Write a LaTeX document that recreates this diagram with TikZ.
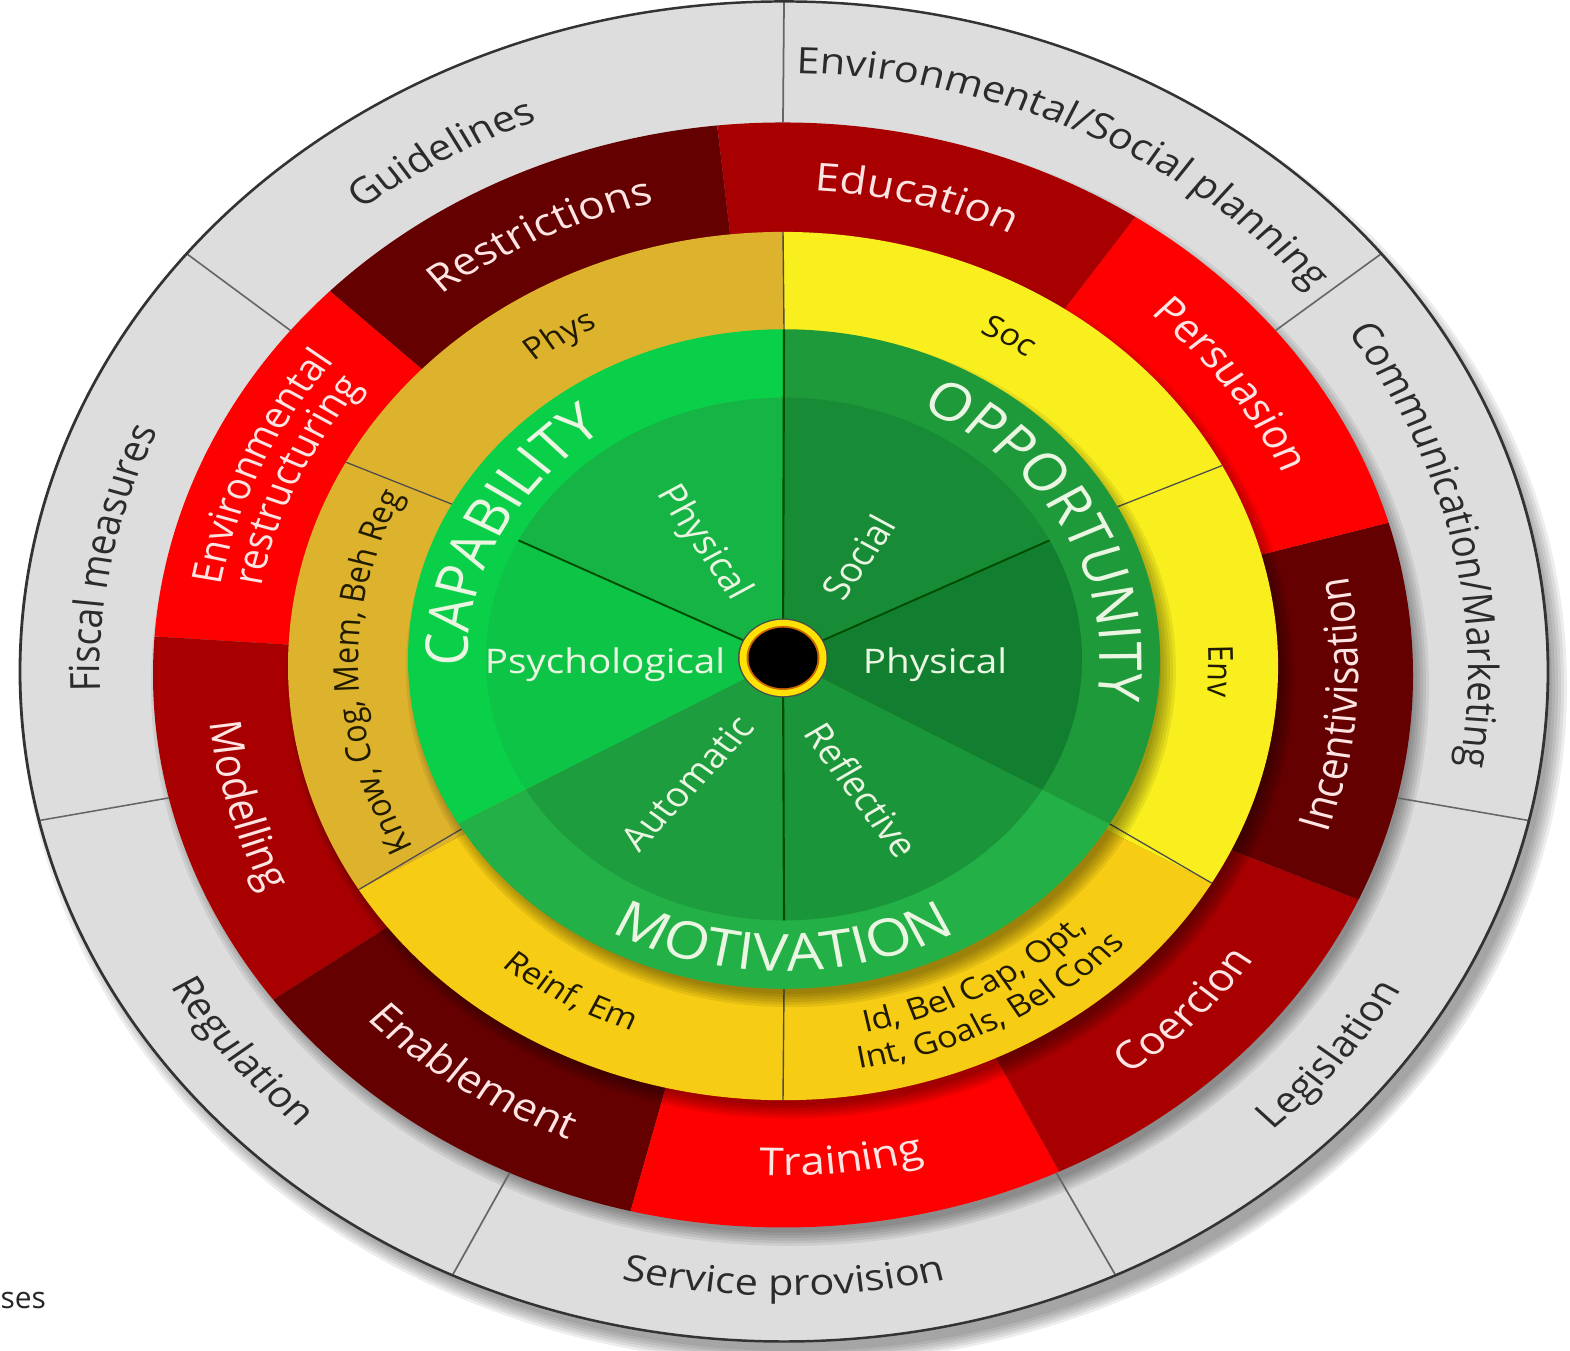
\documentclass[tikz,border=0pt]{standalone}
\usepackage{fontspec}
\setmainfont{Open Sans}
\usepackage{tikz}
\usetikzlibrary{decorations.text}

\definecolor{polgrey}{HTML}{DDDDDD}
\definecolor{poltext}{HTML}{2B2B2B}
\definecolor{fundark}{HTML}{640000}
\definecolor{funmid}{HTML}{A80000}
\definecolor{funbright}{HTML}{FF0000}
\definecolor{funtext}{HTML}{FFE4E4}
\definecolor{tdfgold}{HTML}{DDB22C}
\definecolor{tdfamber}{HTML}{F6CC14}
\definecolor{tdflemon}{HTML}{F9EF1E}
\definecolor{tdftext}{HTML}{1F1A00}
\definecolor{capband}{HTML}{0ACF48}
\definecolor{capphyfill}{HTML}{16B444}
\definecolor{cappsyfill}{HTML}{0DC447}
\definecolor{oppband}{HTML}{1E9A3A}
\definecolor{oppsocfill}{HTML}{178B35}
\definecolor{oppphyfill}{HTML}{127E2F}
\definecolor{motband}{HTML}{23B046}
\definecolor{motautfill}{HTML}{1D9D3D}
\definecolor{motreffill}{HTML}{1A9539}
\definecolor{comtext}{HTML}{EAF6E2}

\newcommand{\polfont}{\fontsize{11.8}{14}\selectfont}
\newcommand{\funfont}{\fontsize{12.5}{15}\selectfont}
\newcommand{\envfont}{\fontsize{11.8}{14}\selectfont}
\newcommand{\tdffont}{\fontsize{9.8}{12}\selectfont}
\newcommand{\comfont}{\fontsize{16.8}{20}\selectfont}

% sector of a ring: centre, from, to, radius, colour
\newcommand{\ringsector}[5]{%
  \fill[#5] (#1) -- ([shift={(#2:#4)}]#1) arc[start angle=#2, end angle=#3, radius=#4] -- cycle;}
% text along an arc: centre, from, to, radius, colour, text
\newcommand{\ringlabel}[6]{%
  \path[decorate, decoration={text along path, text align=center,
      text color=#5, text={#6}}]
    ([shift={(#2:#4)}]#1) arc[start angle=#2, end angle=#3, radius=#4];}
% soft shadow below a ring: centre, radius, x shift, y shift
\newcommand{\ringshadow}[4]{%
  \foreach \s in {0,...,5}{
    \pgfmathsetmacro\rr{#2-0.06+0.03*\s}
    \fill[black, opacity=0.07] ([shift={(#3,#4)}]#1) circle[radius=\rr];
  }}

\tikzset{
  polline/.style={draw=black!60, line width=0.5pt},
  polrim/.style={draw=black!80, line width=0.8pt},
  tdfline/.style={draw=black!70, line width=0.4pt},
  comline/.style={draw=black!70!green, line width=0.6pt}
}

\begin{document}
\begin{tikzpicture}
\useasboundingbox (0,0) rectangle (15.7,13.5);

% the wheel is drawn round and squashed to the ellipse of the picture
\begin{scope}[transform canvas={yscale=0.877}]
\coordinate (pol) at (7.84,7.737);
\coordinate (poltxt) at (7.84,7.719);
\coordinate (fun) at (7.83,7.697);
\coordinate (funtxt) at (7.825,7.748);
\coordinate (tdf) at (7.83,7.799);
\coordinate (tdftxt) at (7.835,7.836);
\coordinate (com) at (7.84,7.879);
\coordinate (hub) at (7.83,7.891);

% policy categories
\ringshadow{pol}{7.64}{0.10}{-0.17}
\fill[polgrey] (pol) circle[radius=7.64];

% intervention functions
\ringshadow{fun}{6.30}{0.07}{-0.12}
\foreach \a/\c in {96/fundark,136/funbright,176/funmid,216/fundark,256/funbright,
                   296/funmid,336/fundark,376/funbright,416/funmid}{
  \pgfmathsetmacro\b{\a+40}
  \ringsector{fun}{\a}{\b}{6.30}{\c}
}
\foreach \k in {0,...,6}{
  \pgfmathsetmacro\a{90-360/7*\k}
  \draw[polline] ([shift={(\a:6.30)}]fun) -- ([shift={(\a:7.64)}]pol);
}
\draw[polrim] (pol) circle[radius=7.64];

% TDF domains
\ringshadow{tdf}{4.95}{0.07}{-0.12}
\ringsector{tdf}{90}{211}{4.95}{tdfgold}
\ringsector{tdf}{211}{330}{4.95}{tdfamber}
\ringsector{tdf}{-30}{90}{4.95}{tdflemon}
\foreach \a in {27.5,90,152,211,270,330}
  \draw[tdfline] ([shift={(\a:3.76)}]com) -- ([shift={(\a:4.95)}]tdf);

% COM-B
\ringshadow{com}{3.76}{0.07}{-0.12}
\ringsector{com}{90}{210}{3.76}{capband}
\ringsector{com}{210}{330}{3.76}{motband}
\ringsector{com}{-30}{90}{3.76}{oppband}
\ringsector{com}{90}{153}{2.98}{capphyfill}
\ringsector{com}{153}{210}{2.98}{cappsyfill}
\ringsector{com}{210}{270}{2.98}{motautfill}
\ringsector{com}{270}{330}{2.98}{motreffill}
\ringsector{com}{-30}{27}{2.98}{oppphyfill}
\ringsector{com}{27}{90}{2.98}{oppsocfill}
\draw[comline] (hub) -- ([shift={(90:3.76)}]com);
\foreach \a in {27,153,270}
  \draw[comline] (hub) -- ([shift={(\a:2.98)}]com);

% hub
\fill[black!70] (hub) circle[radius=0.45];
\fill[yellow!85!orange] (hub) circle[radius=0.435];
\fill[orange!80!black] (hub) circle[radius=0.365];
\fill[black] (hub) circle[radius=0.345];

% labels, policy ring
\ringlabel{poltxt}{160}{80}{6.76}{poltext}{|\polfont|Guidelines}
\ringlabel{poltxt}{104.29}{24.29}{6.84}{poltext}{|\polfont|Environmental/Social planning}
\ringlabel{poltxt}{52.86}{-27.14}{6.84}{poltext}{|\polfont|Communication/Marketing}
\ringlabel{poltxt}{209}{129}{6.84}{poltext}{|\polfont|Fiscal measures}
\ringlabel{poltxt}{178.57}{258.57}{7.10}{poltext}{|\polfont|Regulation}
\ringlabel{poltxt}{230}{310}{7.10}{poltext}{|\polfont|Service provision}
\ringlabel{poltxt}{281.43}{361.43}{7.15}{poltext}{|\polfont|Legislation}

% labels, intervention ring
\ringlabel{funtxt}{156}{76}{5.48}{funtext}{|\funfont|Restrictions}
\ringlabel{funtxt}{116}{36}{5.48}{funtext}{|\funfont|Education}
\ringlabel{funtxt}{76}{-4}{5.48}{funtext}{|\funfont|Persuasion}
\ringlabel{funtxt}{316}{396}{5.76}{funtext}{|\funfont|Incentivisation}
\ringlabel{funtxt}{276}{356}{5.76}{funtext}{|\funfont|Coercion}
\ringlabel{funtxt}{236}{316}{5.76}{funtext}{|\funfont|Training}
\ringlabel{funtxt}{196}{276}{5.76}{funtext}{|\funfont|Enablement}
\ringlabel{funtxt}{156}{236}{5.76}{funtext}{|\funfont|Modelling}
\ringlabel{funtxt}{196}{116}{5.70}{funtext}{|\envfont|Environmental}
\ringlabel{funtxt}{196}{116}{5.30}{funtext}{|\envfont|restructuring}

% labels, TDF ring
\ringlabel{tdftxt}{161}{81}{4.25}{tdftext}{|\tdffont|Phys}
\ringlabel{tdftxt}{98.75}{18.75}{4.25}{tdftext}{|\tdffont|Soc}
\ringlabel{tdftxt}{38.75}{-41.25}{4.25}{tdftext}{|\tdffont|Env}
\ringlabel{tdftxt}{221.5}{141.5}{4.25}{tdftext}{|\tdffont|Know, Cog, Mem, Beh Reg}
\ringlabel{tdftxt}{200.5}{280.5}{4.46}{tdftext}{|\tdffont|Reinf, Em}
\ringlabel{tdftxt}{258}{338}{4.29}{tdftext}{|\tdffont|Id, Bel Cap, Opt,}
\ringlabel{tdftxt}{258}{338}{4.69}{tdftext}{|\tdffont|Int, Goals, Bel Cons}

% labels, COM-B
\ringlabel{com}{203}{103}{3.16}{comtext}{|\comfont|CAPABILITY}
\ringlabel{com}{78}{-22}{3.16}{comtext}{|\comfont|OPPORTUNITY}
\ringlabel{com}{220}{320}{3.56}{comtext}{|\comfont|MOTIVATION}

\begin{scope}[every node/.style={font=\fontsize{11}{13}\selectfont, text=comtext, inner sep=0pt}]
  \node[rotate=-58.4] (capphy) at (7.03,9.202) {Physical};
  \node[rotate=58.4] (oppsoc) at (8.58,9.042) {Social};
  \node (cappsy) at (6.05,7.811) {Psychological};
  \node (oppphy) at (9.35,7.811) {Physical};
  \node[rotate=50.7] (motaut) at (6.87,6.465) {Automatic};
  \node[rotate=-56.5] (motref) at (8.62,6.385) {Reflective};
\end{scope}
\end{scope}

\node[anchor=west, inner sep=0pt, font=\fontsize{8.5}{10}\selectfont, text=black!85] (ses) at (0,0.50) {ses};
\end{tikzpicture}
\end{document}
